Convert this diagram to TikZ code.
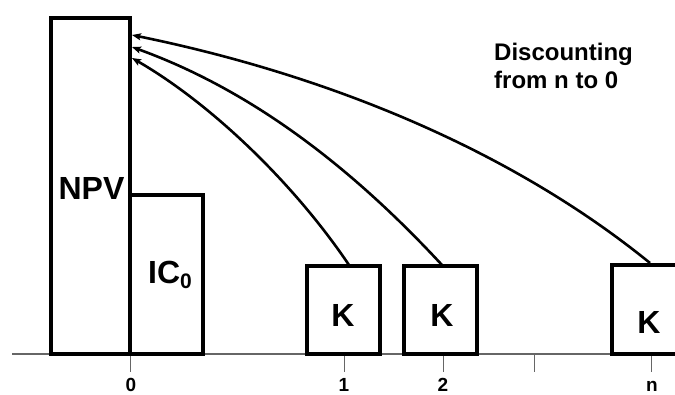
\documentclass[tikz,border=0pt]{standalone}
\usepackage{fontspec}
\setmainfont{Liberation Sans}
\usetikzlibrary{arrows.meta}
\begin{document}
\begin{tikzpicture}[x=1bp,y=-1bp,
  box/.style={draw=black, line width=3.3bp, fill=white, inner sep=0pt},
  lbl/.style={anchor=base, inner sep=0pt, font=\bfseries\fontsize{32bp}{34bp}\selectfont},
  tlbl/.style={anchor=base, inner sep=0pt, font=\bfseries\fontsize{19bp}{20bp}\selectfont},
  axisline/.style={draw=black!60, line width=1.4bp},
  tick/.style={draw=black!60, line width=1bp},
  disc/.style={line width=2.6bp, -{Stealth[length=9bp,width=7bp,inset=2bp]}}]
\useasboundingbox (0,0) rectangle (675,394);
\clip (0,0) rectangle (675,394);
% axis and ticks
\coordinate (axl) at (12,354);
\coordinate (axr) at (675,354);
\draw[axisline] (axl) -- (axr);
\foreach \x/\n in {130/t0,344/t1,443/t2,534/t3,651/tn}{
  \coordinate (\n a) at (\x,354);
  \coordinate (\n b) at (\x,372);
  \draw[tick] (\n a) -- (\n b);
}
\node[tlbl] (l0) at (131,391) {0};
\node[tlbl] (l1) at (344,391) {1};
\node[tlbl] (l2) at (443,391) {2};
\node[tlbl] (ln) at (652,391) {n};
% boxes
\node[box, minimum width=79bp, minimum height=336bp] (npv) at (90.5,186) {};
\node[box, minimum width=73bp, minimum height=159bp] (ic) at (166.5,274.5) {};
\node[box, minimum width=73bp, minimum height=88bp] (k1) at (343.5,310) {};
\node[box, minimum width=73bp, minimum height=88bp] (k2) at (440.5,310) {};
\node[box, minimum width=90bp, minimum height=89bp] (kn) at (657,309.5) {};
% labels
\node[lbl] (npvt) at (91.5,199) {NPV};
\node[lbl, anchor=base west] (ict) at (148,283) {IC\raisebox{-5bp}{\fontsize{21bp}{22bp}\selectfont 0}};
\node[lbl] (k1t) at (343,326) {K};
\node[lbl] (k2t) at (442,326) {K};
\node[lbl] (knt) at (649,333) {K};
\node[anchor=base west, inner sep=0pt, align=left, font=\bfseries\fontsize{24bp}{28bp}\selectfont] (disct) at (494,88) {Discounting\\from n to 0};
% arrow end points
\coordinate (s1) at (349,265);
\coordinate (s2) at (442,265);
\coordinate (sn) at (650,263);
\coordinate (e1) at (132,58);
\coordinate (e2) at (132,47);
\coordinate (en) at (132,35);
\draw[disc] (s1) .. controls (293,182) and (210,103) .. (e1);
\draw[disc] (s2) .. controls (354,170) and (254,91) .. (e2);
\draw[disc] (sn) .. controls (511,150) and (328,75) .. (en);
\end{tikzpicture}
\end{document}
